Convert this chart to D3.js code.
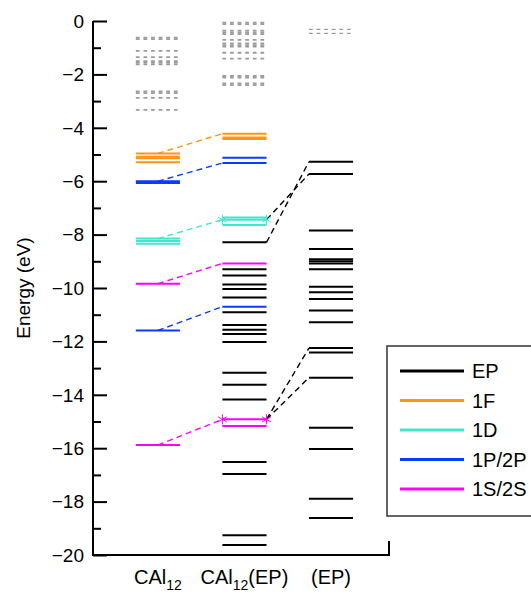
<!DOCTYPE html>
<html>
<head>
<meta charset="utf-8">
<script src="https://cdn.jsdelivr.net/npm/d3@7"></script>
<style>
  body { margin: 0; background: #fff; }
  text { font-family: "Liberation Sans", Arial, sans-serif; }
</style>
</head>
<body>
<svg id="chart" width="531" height="592"></svg>
<script>
// columns: 1 = CAl12, 2 = CAl12(EP), 3 = (EP)
const columns = [1, 2, 3]
const yTicks = d3.range(0, -21, -2)

// gray (unlabelled, dotted) levels per column
const grayC1 = [-0.62, -0.68, -1.12, -1.35, -1.50, -1.55, -1.62, -2.64, -2.70, -2.88, -3.33]
const grayC2 = [-0.06, -0.12, -0.36, -0.43, -0.49, -0.71, -0.84, -0.90, -0.96, -1.19, -1.41, -2.06, -2.12, -2.34, -2.40]
const grayC3 = [-0.31, -0.46]

// 1F
const orangeC1 = [-4.96, -5.08, -5.14, -5.29]
const orangeC2 = [-4.22, -4.36, -4.42]
// 1P/2P
const blueC1 = [-6.0, -6.07, -11.59]
const blueC2 = [-5.12, -5.32, -10.70]
// 1D
const cyanC1 = [-8.15, -8.24, -8.34]
const cyanC2 = [-7.36, -7.44, -7.64]
// 1S/2S
const magentaC1 = [-9.84, -15.88]
const magentaC2 = [-9.08, -14.92, -15.17]
// EP
const blackC2 = [-8.29, -9.30, -9.53, -9.87, -10.04, -10.36, -10.91, -11.39, -11.56, -11.72, -12.02,
  -13.17, -13.62, -14.18, -16.52, -16.97, -19.26, -19.63]
const blackC3 = [-5.27, -5.73, -7.85, -8.54, -8.92, -9.00, -9.08, -9.30, -9.95, -10.16, -10.41, -10.84,
  -11.28, -12.25, -12.42, -13.36, -15.23, -16.03, -17.89, -18.61]

// connectors col1 -> col2 : [from, to]
const orangeLinks = [[-4.96, -4.22]]
const blueLinks = [[-6.0, -5.32], [-11.59, -10.70]]
const cyanLinks = [[-8.15, -7.44]]
const magentaLinks = [[-9.84, -9.08], [-15.88, -14.92]]
// connectors col2 -> col3
const blackLinks = [[-8.29, -5.27], [-7.44, -5.73], [-14.92, -12.25], [-14.92, -13.36]]
// star markers on col2
const stars = [[-7.44, 'cyan'], [-14.92, 'magenta']]

const legendNames = ['EP', '1F', '1D', '1P/2P', '1S/2S']
const colors = {
  black: '#000000',
  orange: '#ff9415',
  cyan: '#3ee8cc',
  blue: '#0a3cff',
  magenta: '#ff00ff',
  gray: '#9c9c9c'
}
const legendColors = [colors.black, colors.orange, colors.cyan, colors.blue, colors.magenta]

const svg = d3.select('#chart')
const x = d3.scaleLinear().domain([0.25, 3.67]).range([93, 389])
const y = d3.scaleLinear().domain([0, -20]).range([21, 555])
const hw = 0.255

const g = svg.append('g')

function levels(vals, col, color, opts = {}) {
  g.append('g').selectAll('line').data(vals).join('line')
    .attr('x1', x(col - hw)).attr('x2', x(col + hw))
    .attr('y1', d => y(d)).attr('y2', d => y(d))
    .attr('stroke', color)
    .attr('stroke-width', opts.w || 2)
    .attr('stroke-dasharray', opts.dash || null)
}

function links(pairs, c0, c1, color) {
  g.append('g').selectAll('line').data(pairs).join('line')
    .attr('x1', d => c0.fromEnd ? x(c0.col + hw) : x(c0.col))
    .attr('y1', d => y(d[0]))
    .attr('x2', x(c1 - hw))
    .attr('y2', d => y(d[1]))
    .attr('stroke', color)
    .attr('stroke-width', 1.4)
    .attr('stroke-dasharray', '6,4')
}

levels(grayC1, 1, colors.gray, { w: 1.8, dash: '3.8,3.8' })
levels(grayC2, 2, colors.gray, { w: 1.8, dash: '3.8,3.8' })
levels(grayC3, 3, colors.gray, { w: 1.3, dash: '3.8,3.8' })

levels(orangeC1, 1, colors.orange)
levels(orangeC2, 2, colors.orange)
levels(blueC1, 1, colors.blue)
levels(blueC2, 2, colors.blue)
levels(cyanC1, 1, colors.cyan)
levels(cyanC2, 2, colors.cyan)
levels(magentaC1, 1, colors.magenta)
levels(blackC2, 2, colors.black)
levels(magentaC2, 2, colors.magenta)
levels(blackC3, 3, colors.black)

links(orangeLinks, { col: 1 }, 2, colors.orange)
links(blueLinks, { col: 1 }, 2, colors.blue)
links(cyanLinks, { col: 1 }, 2, colors.cyan)
links(magentaLinks, { col: 1 }, 2, colors.magenta)
links(blackLinks, { col: 2, fromEnd: true }, 3, colors.black)

// asterisk markers at both ends of the star levels
const starSym = d3.symbol().type(d3.symbolAsterisk).size(70)
stars.forEach(([e, c]) => {
  g.append('g').selectAll('path').data([2 - hw, 2 + hw]).join('path')
    .attr('d', starSym)
    .attr('transform', d => `translate(${x(d)},${y(e)})`)
    .attr('fill', 'none')
    .attr('stroke', colors[c])
    .attr('stroke-width', 1)
})

// y axis
const yAxis = svg.append('g').attr('transform', `translate(${x.range()[0]},0)`)
  .call(d3.axisRight(y).tickValues(yTicks).tickSize(14).tickFormat(''))
yAxis.select('.domain').remove()
yAxis.selectAll('.tick line').attr('stroke', '#000').attr('stroke-width', 2)
svg.append('g').attr('transform', `translate(${x.range()[0]},0)`)
  .call(d3.axisRight(y).tickValues(d3.range(-1, -20, -2)).tickSize(8).tickFormat(''))
  .call(a => a.select('.domain').remove())
  .call(a => a.selectAll('.tick line').attr('stroke', '#000').attr('stroke-width', 2))

svg.append('g').selectAll('text').data(yTicks).join('text')
  .attr('x', 84).attr('y', d => y(d)).attr('dy', '0.36em')
  .attr('text-anchor', 'end').attr('font-size', 19)
  .text(d => d === 0 ? '0' : '\u2212' + Math.abs(d))

// axis lines
svg.append('path')
  .attr('d', `M${x.range()[0]},${y(0)}V${y(-20)}H${x.range()[1]}v-14`)
  .attr('fill', 'none').attr('stroke', '#000').attr('stroke-width', 2)

svg.append('text')
  .attr('transform', `translate(30,${(y(0) + y(-20)) / 2}) rotate(-90)`)
  .attr('text-anchor', 'middle').attr('font-size', 19)
  .text('Energy (eV)')

// x labels
const xl = svg.append('g').attr('font-size', 20).attr('text-anchor', 'middle')
const t1 = xl.append('text').attr('x', x(1)).attr('y', 584)
t1.append('tspan').text('CAl')
t1.append('tspan').attr('font-size', 14).attr('dy', 6).text('12')
const t2 = xl.append('text').attr('x', x(2)).attr('y', 584)
t2.append('tspan').text('CAl')
t2.append('tspan').attr('font-size', 14).attr('dy', 6).text('12')
t2.append('tspan').attr('dy', -6).text('(EP)')
xl.append('text').attr('x', x(3)).attr('y', 584).text('(EP)')

// legend
const lg = svg.append('g').attr('transform', 'translate(387,346)')
lg.append('rect').attr('width', 160).attr('height', 170)
  .attr('fill', '#fff').attr('stroke', '#333').attr('stroke-width', 1.5)
const items = lg.selectAll('g.item').data(legendNames).join('g')
  .attr('class', 'item')
  .attr('transform', (d, i) => `translate(0,${25 + i * 29.5})`)
items.append('line').attr('x1', 13).attr('x2', 77)
  .attr('stroke', (d, i) => legendColors[i]).attr('stroke-width', 3)
items.append('text').attr('x', 85).attr('dy', '0.36em').attr('font-size', 20)
  .text(d => d)
</script>
</body>
</html>
